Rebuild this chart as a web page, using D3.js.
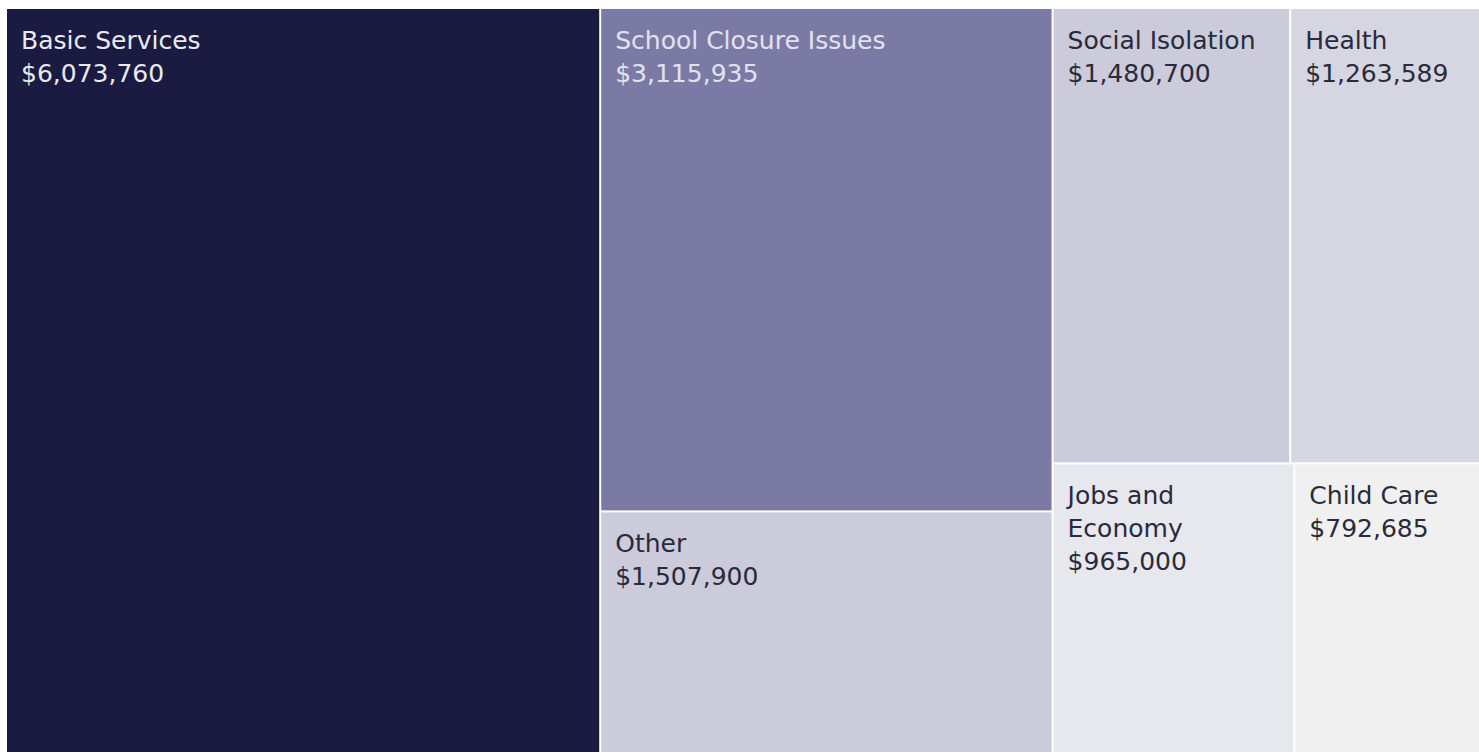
<!DOCTYPE html>
<html>
<head>
<meta charset="utf-8">
<script src="https://cdn.jsdelivr.net/npm/d3@7"></script>
<style>
  html, body { margin: 0; padding: 0; background: #ffffff; overflow: hidden; }
</style>
</head>
<body>
<div id="my_dataviz"></div>
<script>
// data
const categories = ["Basic Services", "School Closure Issues", "Other", "Social Isolation",
  "Health", "Jobs and Economy", "Child Care"]
const amounts = [6073760, 3115935, 1507900, 1480700, 1263589, 965000, 792685]

// tile colours, same order as categories
const fills = ["#1b1b41", "#7a7aa5", "#cbcbdc", "#cbcbdc", "#d6d6e2", "#e7e7ee", "#f0f0f0"]
const inks = ["#e9e9f2", "#e2e2ef", "#2a2a3a", "#2a2a3a", "#2a2a3a", "#2a2a3a", "#2a2a3a"]

const width = 1479, height = 752
// tile area runs a little past the right / bottom edge of the picture
const margin = {top: 9, left: 7}
const areaW = 1485, areaH = 745

const svg = d3.select("#my_dataviz")
  .append("svg")
    .attr("width", width)
    .attr("height", height)
  .append("g")
    .attr("transform", `translate(${margin.left},${margin.top})`)

const color = d3.scaleOrdinal(categories, fills)
const ink = d3.scaleOrdinal(categories, inks)
const money = d3.format("$,")

const root = d3.hierarchy({children: categories.map((c, i) => ({name: c, value: amounts[i]}))})
  .sum(d => d.value || 0)
  .sort((a, b) => b.value - a.value)

d3.treemap()
  .tile(d3.treemapSquarify)
  .size([areaW, areaH])
  .paddingInner(2)
  (root)

const cell = svg.selectAll("g.cell")
  .data(root.leaves())
  .join("g")
    .attr("class", "cell")
    .attr("transform", d => `translate(${d.x0},${d.y0})`)

cell.append("rect")
  .attr("width", d => d.x1 - d.x0)
  .attr("height", d => d.y1 - d.y0)
  .attr("fill", d => color(d.data.name))

const lineH = 33
const label = cell.append("text")
  .attr("fill", d => ink(d.data.name))
  .style("font-family", "'DejaVu Sans', sans-serif")
  .style("font-size", "25px")

// wrap the name if it is too wide for its tile, then add the amount
label.each(function(d) {
  const el = d3.select(this)
  const maxW = (d.x1 - d.x0) - 42
  const words = d.data.name.split(" ")
  let lines = [], cur = []
  const probe = el.append("tspan")
  words.forEach(w => {
    probe.text(cur.concat(w).join(" "))
    if (cur.length && probe.node().getComputedTextLength() > maxW) {
      lines.push(cur.join(" "))
      cur = [w]
    } else cur.push(w)
  })
  lines.push(cur.join(" "))
  probe.remove()
  lines.push(money(d.data.value))
  lines.forEach((t, i) => {
    el.append("tspan")
      .attr("x", 14)
      .attr("y", 40 + i * lineH)
      .text(t)
  })
})
</script>
</body>
</html>
